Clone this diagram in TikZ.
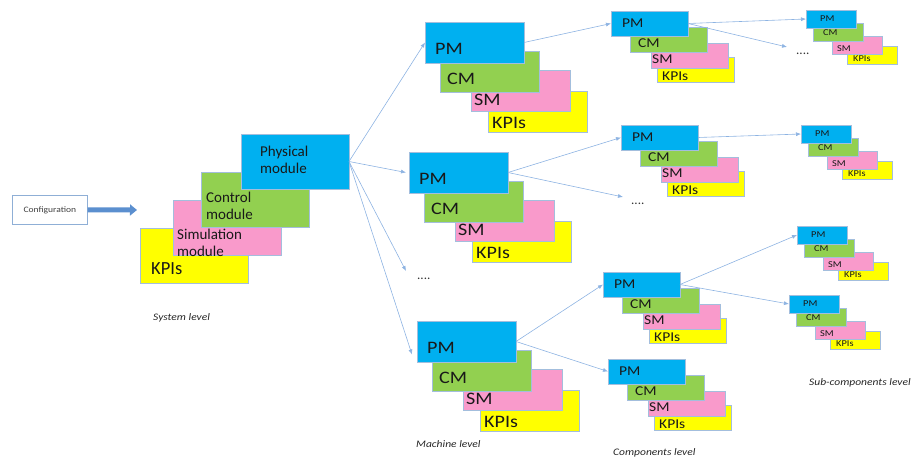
\documentclass[tikz,border=0pt]{standalone}
\usepackage{fontspec}
\setmainfont{Carlito}
\newfontfamily\widecal{Carlito}[FakeStretch=1.15]
\usetikzlibrary{arrows.meta,calc}
\definecolor{pmblue}{HTML}{00B0F0}
\definecolor{cmgreen}{HTML}{92D050}
\definecolor{smpink}{HTML}{F99ACB}
\definecolor{kpyellow}{HTML}{FFFF00}
\definecolor{edgecol}{HTML}{A3BEDD}
\definecolor{linkcol}{HTML}{8DB3E2}
\definecolor{cfgarrow}{HTML}{5B8FCF}
\definecolor{cfgedge}{HTML}{8FAFD6}

\newcommand\machstack[3]{%
  \node[kpbox,mbox] (#1k) at (#2+63,#3+69) {};
  \node[smbox,mbox] (#1s) at (#2+46,#3+48) {};
  \node[cmbox,mbox] (#1c) at (#2+15,#3+29) {};
  \node[pmbox,mbox] (#1p) at (#2,#3) {};
  \node[lbl,mtext] (#1pt) at (#2+10,#3+27) {PM};
  \node[lbl,mtext] (#1ct) at (#2+15+7,#3+29+28) {CM};
  \node[lbl,mtext] (#1st) at (#2+46+3,#3+48+30) {SM};
  \node[lbl,mtext] (#1kt) at (#2+63+4,#3+69+32) {KPIs};
}
\newcommand\compstack[3]{%
  \node[kpbox,cbox] (#1k) at (#2+46,#3+46) {};
  \node[smbox,cbox] (#1s) at (#2+40,#3+32) {};
  \node[cmbox,cbox] (#1c) at (#2+19,#3+16) {};
  \node[pmbox,cbox] (#1p) at (#2,#3) {};
  \node[lbl,ctext] (#1pt) at (#2+11,#3+12) {PM};
  \node[lbl,ctext] (#1ct) at (#2+19+8,#3+16+16) {CM};
  \node[lbl,ctext] (#1st) at (#2+40+1,#3+32+16) {SM};
  \node[lbl,ctext] (#1kt) at (#2+46+5,#3+46+19) {KPIs};
}
\newcommand\subcstack[3]{%
  \node[kpbox,sbox] (#1k) at (#2+41,#3+36) {};
  \node[smbox,sbox] (#1s) at (#2+26,#3+26) {};
  \node[cmbox,sbox] (#1c) at (#2+7,#3+13) {};
  \node[pmbox,sbox] (#1p) at (#2,#3) {};
  \node[lbl,stext] (#1pt) at (#2+14,#3+9) {PM};
  \node[lbl,stext] (#1ct) at (#2+7+10,#3+13+10) {CM};
  \node[lbl,stext] (#1st) at (#2+26+5,#3+26+13) {SM};
  \node[lbl,stext] (#1kt) at (#2+41+6,#3+36+13) {KPIs};
}

\begin{document}
\begin{tikzpicture}[x=1pt,y=-1pt,
  box/.style={draw=edgecol,line width=0.7pt,anchor=north west,inner sep=0pt,outer sep=0pt},
  pmbox/.style={box,fill=pmblue},
  cmbox/.style={box,fill=cmgreen},
  smbox/.style={box,fill=smpink},
  kpbox/.style={box,fill=kpyellow},
  sysbox/.style={minimum width=108pt,minimum height=55pt},
  mbox/.style={minimum width=99pt,minimum height=41pt},
  cbox/.style={minimum width=77pt,minimum height=25pt},
  sbox/.style={minimum width=50pt,minimum height=18pt},
  lbl/.style={anchor=west,inner sep=0pt,text=black!90},
  systext/.style={font=\fontsize{15}{16.5}\selectfont,align=left},
  mtext/.style={font=\widecal\fontsize{17.5}{20}\selectfont},
  ctext/.style={font=\widecal\fontsize{13.5}{16}\selectfont},
  stext/.style={font=\widecal\fontsize{9}{11}\selectfont},
  dots/.style={anchor=base west,inner sep=0pt,font=\fontsize{13}{15}\selectfont,text=black!80},
  levellbl/.style={anchor=west,inner sep=0pt,font=\widecal\fontsize{10}{12}\selectfont\itshape,text=black!85},
  linkarrow/.style={draw=linkcol,line width=0.6pt,-{Latex[length=5pt,width=4pt]}},
  cfgbox/.style={draw=cfgedge,line width=0.7pt,fill=white,anchor=north west,inner sep=0pt,
    minimum width=75pt,minimum height=29pt,font=\widecal\fontsize{8.3}{10}\selectfont,text=black!75},
  cfgarr/.style={draw=cfgarrow,line width=5pt,-{Triangle[length=7pt,width=11pt]}}
]
\useasboundingbox (0,0) rectangle (911,458);

% configuration
\node[cfgbox] (config) at (12,195) {Configuration};
\coordinate (cfgend) at (137,210);
\draw[cfgarr] (config.east) -- (cfgend);

% system level stack
\node[kpbox,sysbox] (kpi) at (140,228) {};
\node[smbox,sysbox] (sim) at (173,200) {};
\node[cmbox,sysbox] (ctrl) at (201,172) {};
\node[pmbox,sysbox] (phys) at (241,134) {};
\node[lbl,systext] (physt) at (260,160) {Physical\\module};
\node[lbl,systext] (ctrlt) at (206,206) {Control\\module};
\node[lbl,systext] (simt) at (177,243) {Simulation\\module};
\node[lbl,font=\fontsize{18.5}{21}\selectfont] (kpit) at (151,269) {KPIs};

% machine level
\machstack{ma}{425}{22}
\machstack{mb}{409}{152}
\machstack{mc}{417}{321}
\node[dots] (mdots) at (417,279) {....};

% component level
\compstack{ca}{611}{11}
\compstack{cb}{621}{125}
\compstack{cc}{603}{272}
\compstack{cd}{608}{359}
\node[dots] (cadots) at (796,54) {....};
\node[dots] (cbdots) at (631,204) {....};

% sub-component level
\subcstack{sa}{806}{10}
\subcstack{sb}{801}{125}
\subcstack{sc}{797}{226}
\subcstack{sd}{789}{295}

% level labels
\node[levellbl] (syslvl) at (153,318) {System level};
\node[levellbl] (machlvl) at (416,444) {Machine level};
\node[levellbl] (complvl) at (613,453) {Components level};
\node[levellbl] (sublvl) at (809,383) {Sub-components level};

% connectors
\coordinate (mdotsend) at (406,271);
\coordinate (cadotsend) at (787,47);
\coordinate (cbdotsend) at (623,197);
\draw[linkarrow] (phys.east) -- (map.west);
\draw[linkarrow] (phys.east) -- ([xshift=-3pt]mbp.west);
\draw[linkarrow] (phys.east) -- (mdotsend);
\draw[linkarrow] (phys.east) -- ([xshift=-5pt,yshift=-13pt]mcp.west);
\draw[linkarrow] (map.east) -- (cap.west);
\draw[linkarrow] (cap.east) -- (sap.west);
\draw[linkarrow] (cap.east) -- (cadotsend);
\draw[linkarrow] (mbp.east) -- (cbp.west);
\draw[linkarrow] (mbp.east) -- (cbdotsend);
\draw[linkarrow] (cbp.east) -- (sbp.west);
\draw[linkarrow] (mcp.east) -- (ccp.west);
\draw[linkarrow] (mcp.east) -- (cdp.west);
\draw[linkarrow] (ccp.east) -- (scp.west);
\draw[linkarrow] (ccp.east) -- (sdp.west);
\end{tikzpicture}
\end{document}
